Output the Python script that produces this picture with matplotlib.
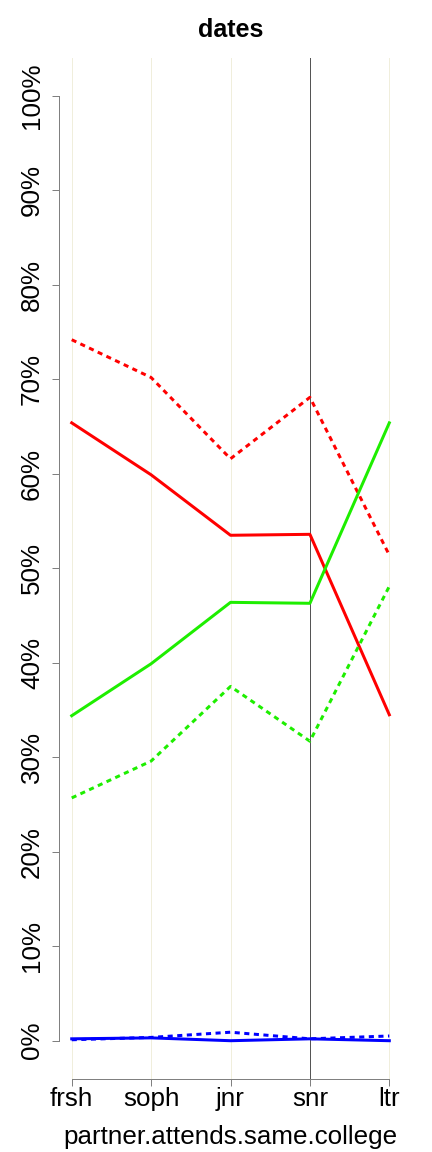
import numpy as np
import matplotlib
matplotlib.use("Agg")
import matplotlib.pyplot as plt

plt.rcParams['font.family'] = ['Liberation Sans', 'DejaVu Sans']

# data
years = ["frsh", "soph", "jnr", "snr", "ltr"]
red_solid = [65.4, 59.9, 53.5, 53.6, 34.5]
red_dotted = [74.2, 70.2, 61.6, 68.1, 51.4]
green_solid = [34.4, 39.9, 46.4, 46.3, 65.4]
green_dotted = [25.7, 29.6, 37.5, 31.7, 48.1]
blue_solid = [0.2, 0.3, 0.0, 0.2, 0.0]
blue_dotted = [0.1, 0.35, 0.9, 0.2, 0.5]
y_ticks = [0, 10, 20, 30, 40, 50, 60, 70, 80, 90, 100]

fig = plt.figure(figsize=(6, 16), dpi=72)
ax = fig.add_axes([0.1366, 0.0638, 0.794, 0.8857])

x = np.arange(1, len(years) + 1)
for xi in x:
    ax.axvline(xi, color='#F0EEDC', lw=1, zorder=0)
ax.axvline(4, color='#555555', lw=1, zorder=1)

lw = 3.0
dash = (1.7, 1.5)
ax.plot(x, red_dotted, color='#FF0000', lw=lw, dashes=dash)
ax.plot(x, red_solid, color='#FF0000', lw=lw)
ax.plot(x, green_dotted, color='#1EEE00', lw=lw, dashes=dash)
ax.plot(x, green_solid, color='#1EEE00', lw=lw)
ax.plot(x, blue_dotted, color='#0000FF', lw=lw, dashes=dash)
ax.plot(x, blue_solid, color='#0000FF', lw=lw)

ax.set_xlim(0.84, 5.16)
ax.set_ylim(-4, 104)

for s in ['top', 'right']:
    ax.spines[s].set_visible(False)
ax.spines['left'].set_bounds(0, 100)
ax.spines['bottom'].set_bounds(1, 5)
for s in ['left', 'bottom']:
    ax.spines[s].set_color('#808080')
    ax.spines[s].set_linewidth(1)

ax.set_xticks(x)
ax.set_xticklabels(years)
ax.set_yticks(y_ticks)
ax.set_yticklabels([f"{v}%" for v in y_ticks], rotation=90, va='center')
ax.tick_params(axis='both', colors='#808080', labelcolor='black',
               labelsize=26, length=7, width=1)
ax.tick_params(axis='y', pad=8)
ax.tick_params(axis='x', pad=1)

ax.set_xlabel("partner.attends.same.college", fontsize=26, labelpad=14)
fig.text(0.533, 0.974, "dates", fontsize=25, fontweight='bold',
         ha='center', va='center')

fig.savefig("out.png", dpi=72)
